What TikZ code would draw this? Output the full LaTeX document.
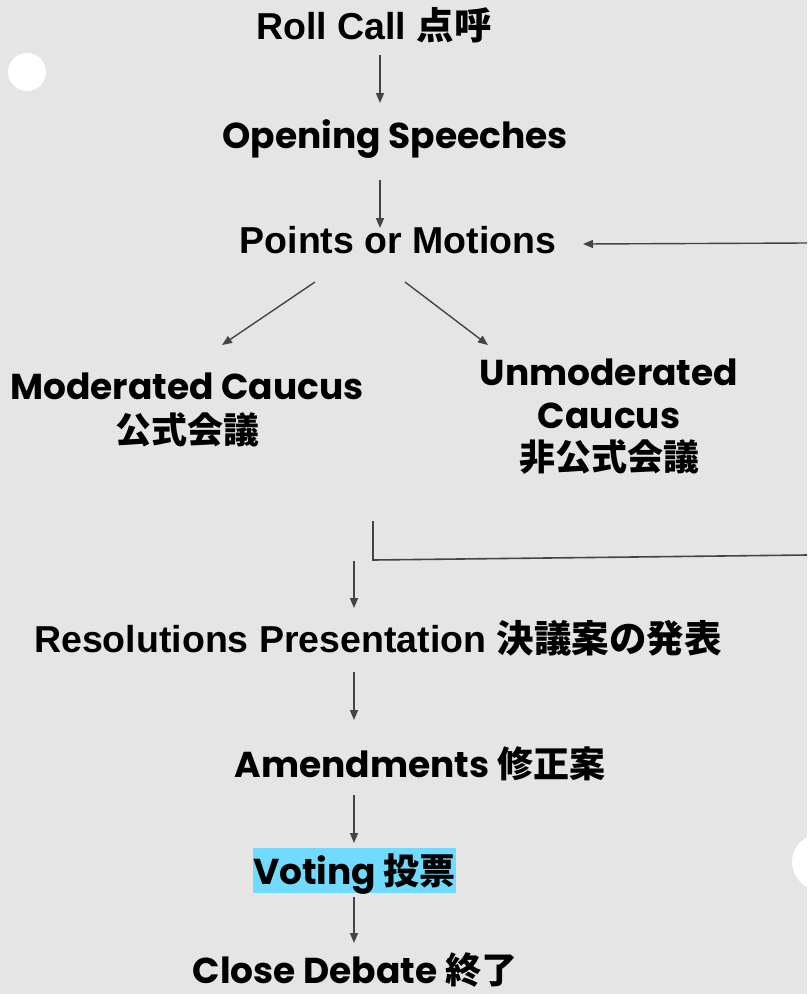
\documentclass[tikz,border=0pt]{standalone}
\usepackage{fontspec}
\newfontfamily\hv{Liberation Sans}
\newfontfamily\pp{Poppins}
\newfontfamily\jp{Noto Sans CJK JP}
\newcommand\HVf{\hv\fontsize{37.5}{44}\selectfont}
\newcommand\PPf{\pp\fontsize{36}{44}\selectfont}
\usetikzlibrary{arrows.meta}
\definecolor{bgc}{RGB}{229,229,229}
\definecolor{arrc}{RGB}{68,68,68}
\definecolor{hl}{RGB}{112,218,255}
\begin{document}
\begin{tikzpicture}[x=1pt,y=-1pt,
  lbl/.style={anchor=base,inner sep=0pt,text=black,font=\bfseries},
  arr/.style={draw=arrc,line width=1.4pt,-{Triangle[length=10pt,width=8pt]}},
  lin/.style={draw=arrc,line width=1.6pt}]
\fill[bgc] (0,0) rectangle (807,994);
\useasboundingbox (0,0) rectangle (807,994);
\fill[white] (27,72) circle (19);
\fill[white] (820,862) circle (28);

\node[lbl] (roll) at (374,39) {\HVf Roll Call \jp 点呼};
\node[lbl] (open) at (395,148) {\PPf Opening Speeches};
\node[lbl] (points) at (398,253) {\HVf Points or Motions};
\node[lbl] (modA) at (187,399) {\PPf Moderated Caucus};
\node[lbl] (modB) at (187,443) {\PPf\jp 公式会議};
\node[lbl] (unA) at (609,385) {\PPf Unmoderated};
\node[lbl] (unB) at (609,428) {\PPf Caucus};
\node[lbl] (unC) at (609,470) {\PPf\jp 非公式会議};
\node[lbl] (reso) at (378,652) {\HVf Resolutions Presentation \jp 決議案の発表};
\node[lbl] (amend) at (420,777) {\PPf Amendments \jp 修正案};
\node[lbl,fill=hl,text height=36pt,text depth=9pt,minimum width=203pt] (vote) at (354.5,884) {\PPf Voting \jp 投票};
\node[lbl] (close) at (355,983) {\PPf Close Debate \jp 終了};

\coordinate (a1s) at (380,55);  \coordinate (a1e) at (380,103);
\coordinate (a2s) at (380,180); \coordinate (a2e) at (380,228);
\coordinate (rs) at (807,243);  \coordinate (re) at (583,244);
\coordinate (d1s) at (315,282); \coordinate (d1e) at (222,345);
\coordinate (d2s) at (405,282); \coordinate (d2e) at (488,345);
\coordinate (b1) at (373,521);  \coordinate (b2) at (373,560); \coordinate (b3) at (807,555);
\coordinate (a3s) at (354,561); \coordinate (a3e) at (354,608);
\coordinate (a4s) at (354,672); \coordinate (a4e) at (354,720);
\coordinate (a5s) at (354,795); \coordinate (a5e) at (354,843);
\coordinate (a6s) at (354,897); \coordinate (a6e) at (354,943);

\draw[arr] (a1s) -- (a1e);
\draw[arr] (a2s) -- (a2e);
\draw[arr] (rs) -- (re);
\draw[arr] (d1s) -- (d1e);
\draw[arr] (d2s) -- (d2e);
\draw[lin] (b1) -- (b2) -- (b3);
\draw[arr] (a3s) -- (a3e);
\draw[arr] (a4s) -- (a4e);
\draw[arr] (a5s) -- (a5e);
\draw[arr] (a6s) -- (a6e);
\end{tikzpicture}
\end{document}
